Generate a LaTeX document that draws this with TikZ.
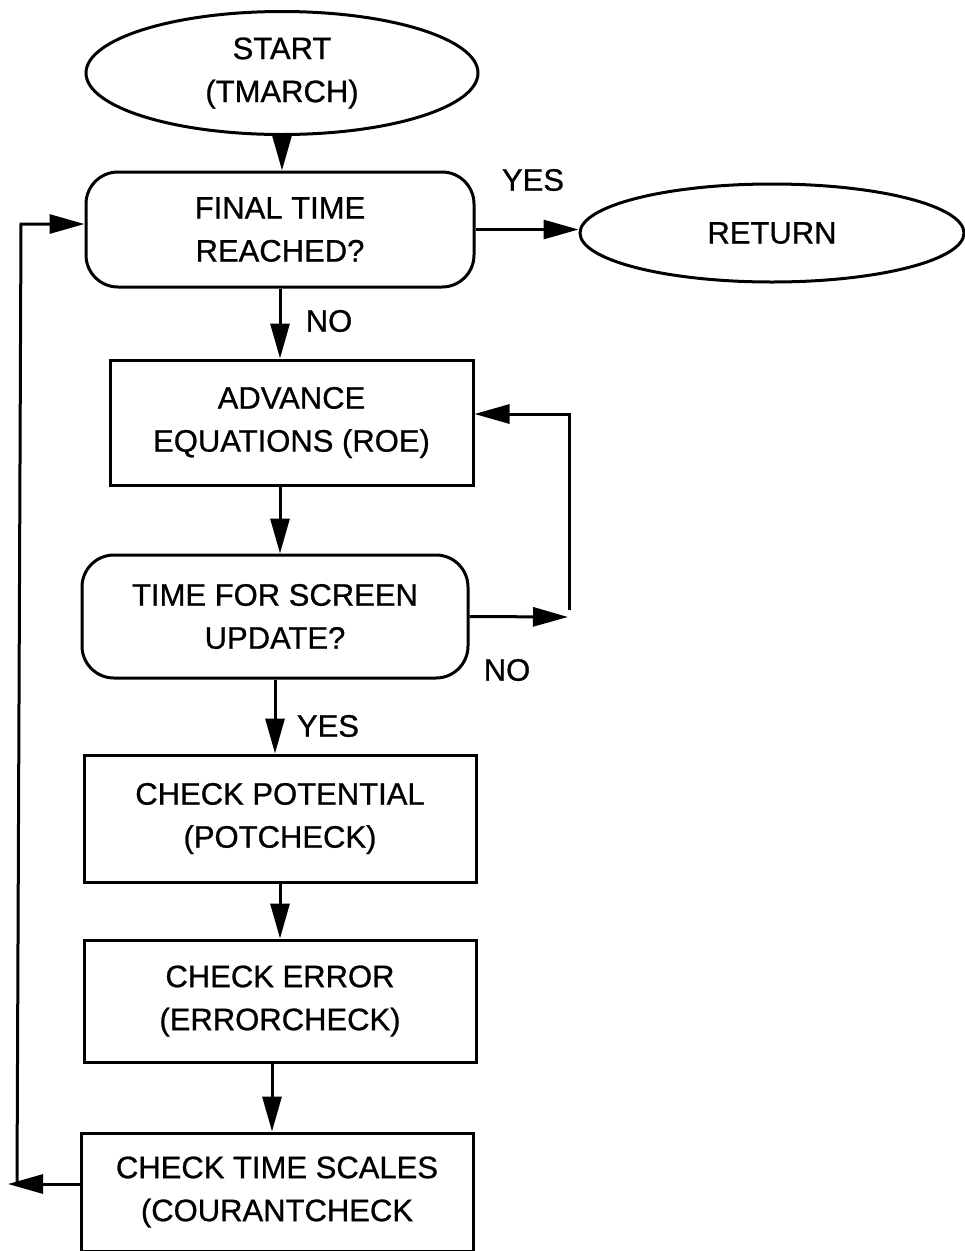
\documentclass[tikz,border=0pt]{standalone}
\usepackage{fontspec}
\setmainfont[FakeBold=0.8]{Liberation Sans}
\usetikzlibrary{shapes.geometric,arrows.meta}
\begin{document}
\begin{tikzpicture}[x=1pt,y=-1pt,
  every node/.style={font=\fontsize{31}{43}\selectfont, align=center, inner sep=0pt},
  shp/.style={draw, line width=3pt},
  oval/.style={shp, ellipse},
  pbox/.style={shp, rectangle},
  rbox/.style={shp, rectangle, rounded corners=32pt},
  lbl/.style={},
  arr/.style={line width=3pt, -{Triangle[length=35pt,width=19pt]}}]
\useasboundingbox (0,0) rectangle (965,1251);
\clip (0,0) rectangle (965,1251);
\fill[white] (0,0) rectangle (965,1251);

\node[oval, minimum width=392pt, minimum height=123pt] (start) at (282,73) {START\\(TMARCH)};
\node[rbox, minimum width=388pt, minimum height=115pt] (final) at (280,229.5) {FINAL TIME\\REACHED?};
\node[oval, minimum width=384pt, minimum height=98pt] (return) at (772,233) {RETURN};
\node[pbox, minimum width=363pt, minimum height=125pt] (advance) at (291.5,422.5) {ADVANCE\\EQUATIONS (ROE)};
\node[rbox, minimum width=386pt, minimum height=123pt] (timefor) at (275,616.5) {TIME FOR SCREEN\\UPDATE?};
\node[pbox, minimum width=392pt, minimum height=127pt] (potential) at (280,818.5) {CHECK POTENTIAL\\(POTCHECK)};
\node[pbox, minimum width=392pt, minimum height=122pt] (error) at (280,1001) {CHECK ERROR\\(ERRORCHECK)};
\node[pbox, minimum width=392pt, minimum height=118pt] (scales) at (277,1192) {CHECK TIME SCALES\\(COURANTCHECK};

\node[lbl] (yes1) at (533,180) {YES};
\node[lbl] (no1) at (329,321) {NO};
\node[lbl] (no2) at (507,670) {NO};
\node[lbl] (yes2) at (328,726) {YES};

\coordinate (ltip) at (8,1184);
\coordinate (lb) at (17,1184);
\coordinate (lt) at (21,224);
\coordinate (nr) at (568,617);
\coordinate (ub) at (569,610);
\coordinate (ut) at (569,414);

\draw[arr] (start.south) -- (start.south |- final.north);
\draw[arr] (final.east) -- (final.east -| return.west);
\draw[arr] (final.south) -- (final.south |- advance.north);
\draw[arr] (final.south |- advance.south) -- (final.south |- timefor.north);
\draw[arr] (timefor.east) -- (nr);
\draw[arr] (ub) -- (ut) -- (ut -| advance.east);
\draw[arr] (timefor.south) -- (timefor.south |- potential.north);
\draw[arr] (potential.south) -- (error.north);
\draw[arr] ([xshift=-8pt]error.south) -- ([xshift=-8pt]error.south |- scales.north);
\draw[arr] (scales.west |- ltip) -- (ltip);
\draw[arr] (lb) -- (lt) -- (lt -| final.west);
\end{tikzpicture}
\end{document}
